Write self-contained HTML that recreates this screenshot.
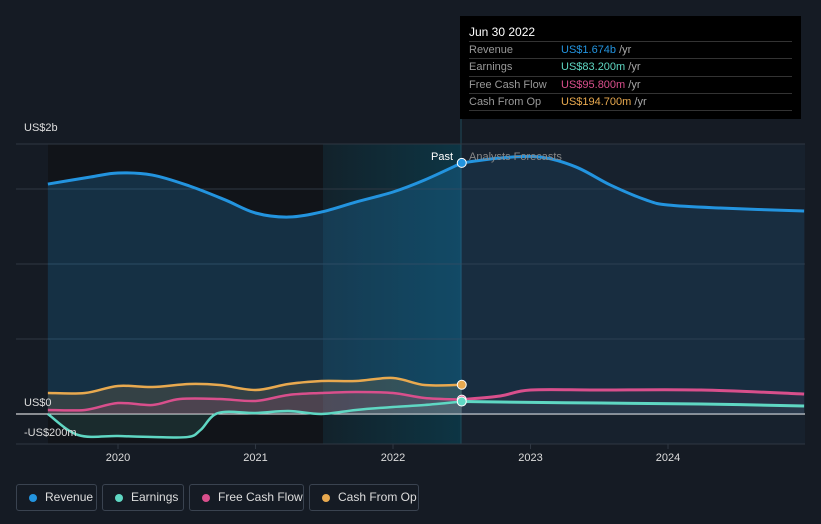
<!DOCTYPE html>
<html><head><meta charset="utf-8"><style>
body{margin:0;background:#151b24;font-family:"Liberation Sans",sans-serif;}
#wrap{position:relative;width:821px;height:524px;overflow:hidden;background:#151b24}
svg text{font-family:"Liberation Sans",sans-serif}
.tt{position:absolute;left:460px;top:16px;width:341px;height:103px;background:#000;color:#fff;font-size:11px}
.tt .row{position:absolute;left:9px;width:323px;border-top:1px solid #333;height:17px;line-height:17px}
.tt .lab{color:#999;position:absolute;left:0}
.tt .val{position:absolute;left:92px}
.legend{position:absolute;top:484px;height:27px;border:1px solid #3a4350;border-radius:3px;color:#ddd;font-size:12px;line-height:25px;box-sizing:border-box;padding-left:28px;white-space:nowrap}
.legend i{position:absolute;left:12px;top:9px;width:8px;height:8px;border-radius:50%}
</style></head><body>
<div id="wrap">
<svg id="svg" width="821" height="524" style="position:absolute;left:0;top:0"></svg>
<div class="tt">
 <div style="position:absolute;left:9px;top:9px;font-size:12px">Jun 30 2022</div>
 <div class="row" style="top:25px"><span class="lab">Revenue</span><span class="val"><span style="color:#2394df">US$1.674b</span> <span style="color:#aaa">/yr</span></span></div>
 <div class="row" style="top:42px"><span class="lab">Earnings</span><span class="val"><span style="color:#5fd7c3">US$83.200m</span> <span style="color:#aaa">/yr</span></span></div>
 <div class="row" style="top:60px"><span class="lab">Free Cash Flow</span><span class="val"><span style="color:#d94f8c">US$95.800m</span> <span style="color:#aaa">/yr</span></span></div>
 <div class="row" style="top:77px"><span class="lab">Cash From Op</span><span class="val"><span style="color:#e8a94f">US$194.700m</span> <span style="color:#aaa">/yr</span></span></div>
 <div style="position:absolute;left:9px;top:94px;width:323px;border-top:1px solid #333"></div>
</div>
<div class="legend" style="left:16px;width:81px"><i style="background:#2394df"></i>Revenue</div>
<div class="legend" style="left:102px;width:82px"><i style="background:#5fd7c3"></i>Earnings</div>
<div class="legend" style="left:189px;width:115px"><i style="background:#d94f8c"></i>Free Cash Flow</div>
<div class="legend" style="left:309px;width:110px"><i style="background:#e8a94f"></i>Cash From Op</div>
</div>
<script>
const revX=[2019.49,2019.8,2020,2020.25,2020.52,2020.78,2021,2021.24,2021.48,2021.73,2022,2022.23,2022.5];
const revY=[1533,1580,1607,1593,1520,1427,1340,1313,1347,1413,1480,1560,1674];
const revFX=[2022.5,2022.78,2023.07,2023.33,2023.58,2023.84,2024,2024.38,2024.99];
const revFY=[1674,1707,1713,1647,1527,1427,1393,1373,1353];
const cfoX=[2019.49,2019.76,2020,2020.25,2020.52,2020.74,2021,2021.24,2021.48,2021.73,2022,2022.23,2022.5];
const cfoY=[140,140,187,180,200,193,160,200,220,220,240,193,195];
const fcfX=[2019.49,2019.76,2020,2020.25,2020.45,2020.74,2021,2021.24,2021.48,2021.73,2022,2022.23,2022.5];
const fcfY=[27,27,73,60,100,100,87,127,140,147,140,107,96];
const fcfFX=[2022.5,2022.78,2023,2023.5,2024.24,2024.99];
const fcfFY=[96,120,160,160,160,133];
const earnX=[2019.49,2019.71,2020,2020.25,2020.51,2020.6,2020.73,2021,2021.24,2021.48,2021.73,2022,2022.23,2022.5];
const earnY=[0,-140,-147,-153,-153,-107,7,7,20,0,27,47,60,83];
const earnFX=[2022.5,2022.78,2023.51,2024.24,2024.99];
const earnFY=[83,80,73,67,53];
const xTicks=[2020,2021,2022,2023,2024];
const yGrid=[0,500,1000,1500,1800];
const X=v=>118+(v-2020)*137.5, Y=v=>414-v*0.15;
const svg=document.getElementById('svg'),NS='http://www.w3.org/2000/svg';
function el(t,a,p){const e=document.createElementNS(NS,t);for(const k in a)e.setAttribute(k,a[k]);(p||svg).appendChild(e);return e;}
function path(xs,ys){const p=xs.map((x,i)=>[X(x),Y(ys[i])]);
 let d='M'+p[0][0]+','+p[0][1];
 for(let i=0;i<p.length-1;i++){const p0=p[Math.max(0,i-1)],p1=p[i],p2=p[i+1],p3=p[Math.min(p.length-1,i+2)];
  const c1=[p1[0]+(p2[0]-p0[0])/6,p1[1]+(p2[1]-p0[1])/6],c2=[p2[0]-(p3[0]-p1[0])/6,p2[1]-(p3[1]-p1[1])/6];
  d+=' C'+c1[0]+','+c1[1]+' '+c2[0]+','+c2[1]+' '+p2[0]+','+p2[1];}
 return d;}
const defs=el('defs',{});
const g=el('linearGradient',{id:'pg',x1:0,y1:0,x2:1,y2:0},defs);
el('stop',{offset:0,'stop-color':'#12222b'},g);el('stop',{offset:1,'stop-color':'#0d3544'},g);
let r=el('rect',{x:48,y:144,width:275,height:300,fill:'#111419'});
r=el('rect',{x:323,y:144,width:138,height:300,fill:'url(#pg)'});
r=el('rect',{x:461,y:144,width:344,height:300,fill:'#17212d'});
el('line',{x1:461,y1:16,x2:461,y2:444,stroke:'#1e4b5a','stroke-width':1});
yGrid.forEach(v=>{const l=el('line',{x1:16,x2:805,y1:Y(v),y2:Y(v),stroke:v==0?'#fff':'#2f3742','stroke-width':1});});
el('line',{x1:16,x2:805,y1:444,y2:444,stroke:'#2f3742'});
xTicks.forEach(v=>{el('line',{x1:X(v),x2:X(v),y1:444,y2:449,stroke:'#2f3742'});const t=el('text',{x:X(v),y:461,fill:'#ddd','font-size':11,'text-anchor':'middle'});t.textContent=v;});
function series(xs,ys,fx,fy,col,name,fillOp){
 const d=path(xs,ys);
 const a=el('path',{d:d+' L'+X(xs[xs.length-1])+','+Y(0)+' L'+X(xs[0])+','+Y(0)+'Z',fill:col,'fill-opacity':fillOp});
 if(fx){const fd=path(fx,fy);const fa=el('path',{d:fd+' L'+X(fx[fx.length-1])+','+Y(0)+' L'+X(fx[0])+','+Y(0)+'Z',fill:col,'fill-opacity':fillOp*0.5});
  const fl=el('path',{d:fd,fill:'none',stroke:col,'stroke-width':3});}
 const l=el('path',{d:d,fill:'none',stroke:col,'stroke-width':name=='revenue'?3:2.5});
 const c=el('circle',{cx:X(xs[xs.length-1]),cy:Y(ys[ys.length-1]),r:4.5,fill:col,stroke:'#fff','stroke-width':1});
}
series(revX,revY,revFX,revFY,'#2394df','revenue',0.22);
series(cfoX,cfoY,null,null,'#e8a94f','cash-from-op',0.15);
series(fcfX,fcfY,fcfFX,fcfFY,'#d94f8c','free-cash-flow',0.15);
series(earnX,earnY,earnFX,earnFY,'#5fd7c3','earnings',0.12);
[['US$2b',131],['US$0',406],['-US$200m',436]].forEach(a=>{const t=el('text',{x:24,y:a[1],fill:'#ddd','font-size':11});t.textContent=a[0];});
let t=el('text',{x:453,y:160,fill:'#fff','font-size':11,'text-anchor':'end'});t.textContent='Past';
t=el('text',{x:469,y:160,fill:'#888','font-size':11});t.textContent='Analysts Forecasts';
</script>
</body></html>
